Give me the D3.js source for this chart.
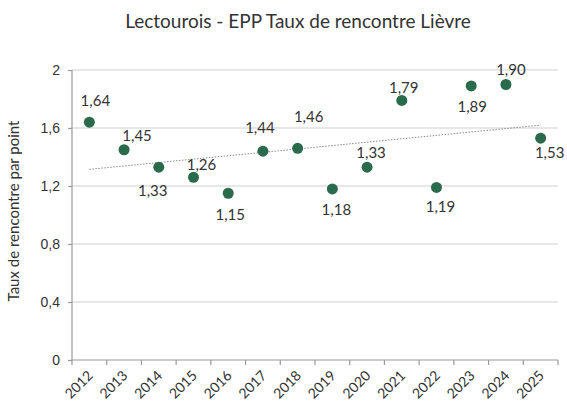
<!DOCTYPE html>
<html>
<head>
<meta charset="utf-8">
<script src="https://cdnjs.cloudflare.com/ajax/libs/d3/7.8.5/d3.min.js"></script>
<style>
  body { margin: 0; background: #fff; }
  svg { font-family: Lato, "Open Sans", sans-serif; }
  .grid line { stroke: #cfcfcf; stroke-width: 1.2; }
  .axis path, .axis line { stroke: #9a9a9a; stroke-width: 1.2; }
  .axis text { fill: #333; font-size: 14px; }
</style>
</head>
<body>
<div id="chart"></div>
<script>
  // data
  const years = ["2012", "2013", "2014", "2015", "2016", "2017", "2018",
    "2019", "2020", "2021", "2022", "2023", "2024", "2025"];
  const rates = [1.64, 1.45, 1.33, 1.26, 1.15, 1.44, 1.46, 1.18, 1.33, 1.79,
    1.19, 1.89, 1.90, 1.53];
  const yTicks = [0, 0.4, 0.8, 1.2, 1.6, 2];

  // label placement relative to the point (dx, dy)
  const labelOffsets = [[6, -21], [13, -14], [-6, 24], [8, -13], [2, 21],
    [-3, -23], [11, -32], [4, 21], [4, -14], [2, -13], [4, 19], [1, 21],
    [5, -15], [9, 15]];

  const svgWidth = 567, svgHeight = 412;
  const margin = { top: 70, left: 72, right: 8, bottom: 52 },
    width = svgWidth - margin.left - margin.right,
    height = svgHeight - margin.top - margin.bottom;

  const fmt = (v) => d3.format(".2f")(v).replace(".", ",");
  const fmtTick = (v) => String(v).replace(".", ",");

  const root = d3.select("#chart").append("svg")
    .attr("width", svgWidth).attr("height", svgHeight);

  root.append("text")
    .attr("x", 298).attr("y", 28)
    .attr("text-anchor", "middle")
    .attr("font-size", "19px")
    .attr("fill", "#333")
    .text("Lectourois - EPP Taux de rencontre Lièvre");

  const svg = root.append("g")
    .attr("transform", "translate(" + margin.left + "," + margin.top + ")");

  const x = d3.scaleBand().domain(years).range([0, width - 1]);
  const y = d3.scaleLinear().domain([0, 2]).range([height, 0]);

  // gridlines
  svg.append("g").attr("class", "grid")
    .selectAll("line").data(yTicks.filter((d) => d > 0)).enter()
    .append("line")
    .attr("x1", 0).attr("x2", width - 1)
    .attr("y1", (d) => y(d)).attr("y2", (d) => y(d));

  // y axis
  const yAxis = svg.append("g").attr("class", "axis")
    .call(d3.axisLeft(y).tickValues(yTicks).tickFormat(fmtTick)
      .tickSize(4).tickPadding(8));
  yAxis.select(".domain").attr("d", "M0," + y(2) + "V" + height);

  // x axis with ticks at band edges
  const xAxis = svg.append("g").attr("class", "axis")
    .attr("transform", "translate(0," + height + ")");
  xAxis.append("line")
    .attr("x1", 0).attr("x2", width - 1).attr("y1", 0).attr("y2", 0);
  xAxis.selectAll("line.tk")
    .data(years.concat(["end"])).enter()
    .append("line").attr("class", "tk")
    .attr("x1", (d, i) => i * x.step()).attr("x2", (d, i) => i * x.step())
    .attr("y1", 0).attr("y2", 5);
  xAxis.selectAll("text")
    .data(years).enter()
    .append("text")
    .attr("text-anchor", "end")
    .attr("transform", (d) =>
      "translate(" + (x(d) + x.bandwidth() / 2 + 1) + ",13) rotate(-45)")
    .attr("dy", "0.35em")
    .text((d) => d);

  // y axis title
  root.append("text")
    .attr("transform", "translate(19," + (margin.top + height / 2 - 4) + ") rotate(-90)")
    .attr("text-anchor", "middle")
    .attr("font-size", "15px")
    .attr("fill", "#333")
    .text("Taux de rencontre par point");

  // linear trend
  const xs = rates.map((d, i) => i);
  const mx = d3.mean(xs), my = d3.mean(rates);
  const slope = d3.sum(xs, (d, i) => (d - mx) * (rates[i] - my)) /
    d3.sum(xs, (d) => (d - mx) * (d - mx));
  const icpt = my - slope * mx;
  const cx = (i) => x(years[i]) + x.bandwidth() / 2;
  svg.append("line")
    .attr("x1", cx(0)).attr("y1", y(icpt))
    .attr("x2", cx(years.length - 1)).attr("y2", y(icpt + slope * (years.length - 1)))
    .attr("stroke", "#8a8a8a")
    .attr("stroke-width", 1)
    .attr("stroke-dasharray", "1.5,1.5");

  // points
  svg.selectAll("circle").data(rates).enter()
    .append("circle")
    .attr("cx", (d, i) => cx(i))
    .attr("cy", (d) => y(d))
    .attr("r", 5.5)
    .attr("fill", "#2a6b4c");

  // data labels
  svg.selectAll("text.lbl").data(rates).enter()
    .append("text").attr("class", "lbl")
    .attr("x", (d, i) => cx(i) + labelOffsets[i][0])
    .attr("y", (d, i) => y(d) + labelOffsets[i][1])
    .attr("dy", "0.35em")
    .attr("text-anchor", "middle")
    .attr("font-size", "15px")
    .attr("fill", "#333")
    .text((d) => fmt(d));
</script>
</body>
</html>
